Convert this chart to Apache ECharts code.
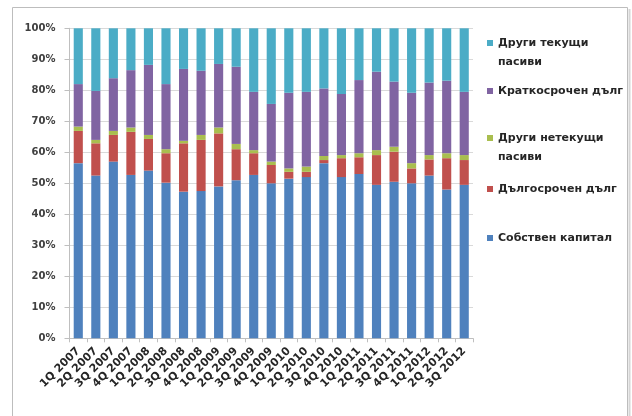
<!DOCTYPE html>
<html>
<head>
<meta charset="utf-8">
<script src="https://cdn.jsdelivr.net/npm/echarts@6/dist/echarts.min.js"></script>
<style>
  html, body { margin: 0; padding: 0; background: #ffffff; }
  #chart { width: 632px; height: 416px; }
</style>
</head>
<body>
<div id="chart"></div>
<script>
// Quarterly structure of liabilities and equity, % of total
const quarters = [
  '1Q 2007', '2Q 2007', '3Q 2007', '4Q 2007',
  '1Q 2008', '2Q 2008', '3Q 2008', '4Q 2008',
  '1Q 2009', '2Q 2009', '3Q 2009', '4Q 2009',
  '1Q 2010', '2Q 2010', '3Q 2010', '4Q 2010',
  '1Q 2011', '2Q 2011', '3Q 2011', '4Q 2011',
  '1Q 2012', '2Q 2012', '3Q 2012'
];

const equity = [56.5, 52.5, 57.0, 52.7, 54.1, 50.2, 47.3, 47.5, 49.0, 51.0, 52.7, 50.0,
                51.5, 52.0, 56.5, 52.0, 53.0, 49.5, 50.5, 50.0, 52.5, 48.0, 49.5];
const longTermDebt = [10.4, 10.4, 8.6, 13.9, 10.2, 9.5, 15.6, 16.5, 17.1, 10.0, 7.0, 5.9,
                      2.2, 1.7, 1.0, 6.1, 5.4, 9.6, 9.7, 4.8, 5.2, 10.1, 8.0];
const otherNonCurrent = [1.4, 1.1, 1.3, 1.4, 1.3, 1.3, 0.8, 1.6, 1.9, 1.7, 1.0, 1.1,
                         1.1, 1.7, 1.3, 1.0, 1.3, 1.6, 1.6, 1.7, 1.4, 1.6, 1.6];
const shortTermDebt = [13.7, 15.8, 17.0, 18.5, 22.6, 21.0, 23.2, 20.7, 20.5, 24.9, 18.8, 18.6,
                       24.4, 24.1, 21.8, 19.7, 23.6, 25.3, 21.0, 22.7, 23.4, 23.4, 20.4];
const otherCurrent = [18.0, 20.2, 16.1, 13.5, 11.8, 18.0, 13.1, 13.7, 11.5, 12.4, 20.5, 24.4,
                      20.8, 20.5, 19.4, 21.2, 16.7, 14.0, 17.2, 20.8, 17.5, 16.9, 20.5];

const yTicks = [0, 10, 20, 30, 40, 50, 60, 70, 80, 90, 100];

const seriesDefs = [
  { name: 'Собствен капитал', data: equity, color: '#4F81BD' },
  { name: 'Дългосрочен дълг', data: longTermDebt, color: '#C0504D' },
  { name: 'Други нетекущи пасиви', data: otherNonCurrent, color: '#A9BE4F' },
  { name: 'Краткосрочен дълг', data: shortTermDebt, color: '#8064A2' },
  { name: 'Други текущи пасиви', data: otherCurrent, color: '#4BACC6' }
];

// Legend entries, top to bottom, with the first text line and icon centre
const legendItems = [
  { name: 'Други текущи пасиви', line1: 'Други текущи', line2: 'пасиви', y: 43 },
  { name: 'Краткосрочен дълг', line1: 'Краткосрочен дълг', line2: '', y: 91 },
  { name: 'Други нетекущи пасиви', line1: 'Други нетекущи', line2: 'пасиви', y: 138 },
  { name: 'Дългосрочен дълг', line1: 'Дългосрочен дълг', line2: '', y: 189 },
  { name: 'Собствен капитал', line1: 'Собствен капитал', line2: '', y: 238 }
];

const FONT = 'DejaVu Sans, Verdana, sans-serif';
const TEXT_COLOR = '#262626';

const chart = echarts.init(document.getElementById('chart'), null, { renderer: 'canvas' });

const legends = legendItems.map(item => ({
  show: true,
  data: [item.name],
  orient: 'vertical',
  left: 487,
  top: item.y - 7,
  padding: 0,
  itemWidth: 6,
  itemHeight: 6,
  icon: 'rect',
  selectedMode: false,
  formatter: () => item.line1,
  textStyle: { fontFamily: FONT, fontSize: 11, fontWeight: 'bold', color: TEXT_COLOR, lineHeight: 14 }
}));

// Continuation lines of the two-line legend entries
const secondLines = legendItems.filter(i => i.line2).map(item => ({
  type: 'text',
  left: 498,
  top: item.y + 14,
  style: { text: item.line2, fontFamily: FONT, fontSize: 11, fontWeight: 'bold', fill: TEXT_COLOR }
}));

chart.setOption({
  backgroundColor: '#ffffff',
  animation: false,
  graphic: [
    {
      type: 'rect',
      shape: { x: 12.5, y: 7.5, width: 615, height: 420 },
      style: { fill: 'none', stroke: '#bdbdbd', lineWidth: 1 },
      z: -1
    },
    {
      type: 'line',
      shape: { x1: 629.5, y1: 9, x2: 629.5, y2: 416 },
      style: { stroke: '#d6d6d6', lineWidth: 2 },
      z: -1
    }
  ].concat(secondLines),
  legend: legends,
  grid: { left: 69.5, right: 159, top: 28.3, bottom: 77.7, containLabel: false },
  xAxis: {
    type: 'category',
    data: quarters,
    boundaryGap: true,
    axisLine: { show: true, lineStyle: { color: '#bfbfbf', width: 1 } },
    axisTick: { show: true, length: 4, interval: 0, lineStyle: { color: '#bfbfbf' } },
    axisLabel: {
      interval: 0,
      rotate: 45,
      margin: 11,
      fontFamily: FONT,
      fontSize: 11,
      fontWeight: 'bold',
      color: TEXT_COLOR
    },
    splitLine: { show: false }
  },
  yAxis: {
    type: 'value',
    min: yTicks[0],
    max: yTicks[yTicks.length - 1],
    interval: yTicks[1] - yTicks[0],
    axisLine: { show: true, lineStyle: { color: '#bfbfbf' } },
    axisTick: { show: true, length: 5, lineStyle: { color: '#bfbfbf' } },
    axisLabel: {
      formatter: '{value}%',
      margin: 14,
      fontFamily: FONT,
      fontSize: 10,
      fontWeight: 'bold',
      color: '#404040'
    },
    splitLine: { show: true, lineStyle: { color: '#d9d9d9', width: 1 } }
  },
  series: seriesDefs.map(s => ({
    name: s.name,
    type: 'bar',
    stack: 'total',
    data: s.data,
    barWidth: '52%',
    itemStyle: { color: s.color },
    emphasis: { disabled: true }
  }))
});
</script>
</body>
</html>
